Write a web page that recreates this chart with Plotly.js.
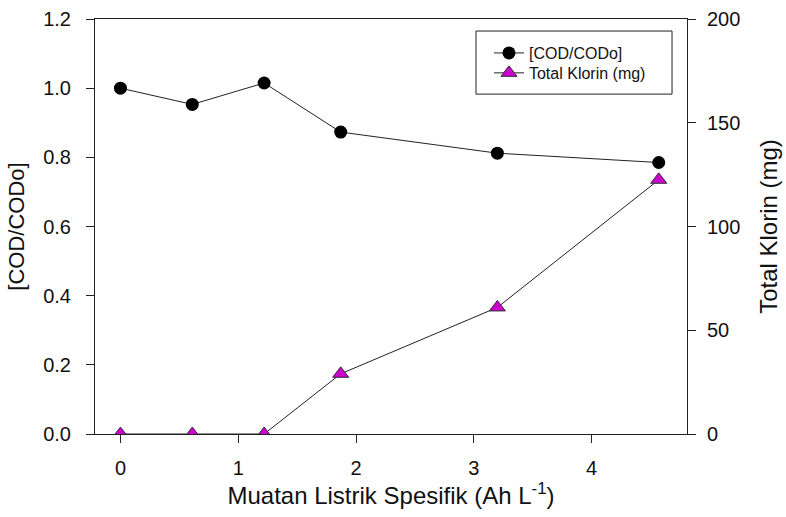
<!DOCTYPE html>
<html><head><meta charset="utf-8">
<script src="https://cdn.plot.ly/plotly-3.0.1.min.js"></script>
<style>body{margin:0;background:#fff}#c{width:786px;height:517px}</style>
</head><body><div id="c"></div>
<script>
const charge = [0, 0.61, 1.22, 1.87, 3.2, 4.57];
const codRatio = [1.0, 0.953, 1.015, 0.873, 0.812, 0.785];
const klorin = [0, 0, 0, 29, 61, 122.5];
const xTicks = [0, 1, 2, 3, 4];
const yTicks = [0, 0.2, 0.4, 0.6, 0.8, 1.0, 1.2];
const y2Ticks = [0, 50, 100, 150, 200];
const fam = '"Liberation Sans", Arial, sans-serif';
const traces = [
  {x: charge, y: codRatio, name: '[COD/CODo]', mode: 'lines+markers', type: 'scatter', legend: 'legend',
   line: {color: '#222', width: 1}, marker: {symbol: 'circle', size: 13, color: '#000'}},
  {x: charge, y: klorin, name: 'Total Klorin (mg)', mode: 'lines+markers', type: 'scatter', yaxis: 'y2', legend: 'legend2',
   line: {color: '#222', width: 1}, marker: {symbol: 'triangle-up', size: 14, color: '#cc00cc', line: {color: '#333', width: 1}}}
];
const axisBase = {ticks: 'outside', ticklen: 8, tickcolor: '#222', showgrid: false, zeroline: false,
  showline: true, linecolor: '#222', linewidth: 1, tickfont: {size: 20, family: fam, color: '#111'}};
const legBase = {xanchor: 'left', yanchor: 'middle', borderwidth: 0, bgcolor: 'rgba(0,0,0,0)',
  font: {size: 16, family: fam, color: '#111'}};
const layout = {
  width: 786, height: 517,
  margin: {l: 95, r: 99, t: 19, b: 83},
  paper_bgcolor: '#fff', plot_bgcolor: '#fff',
  font: {family: fam, color: '#111', size: 16},
  showlegend: true,
  legend: Object.assign({}, legBase, {x: 0.6655, y: 0.918}),
  legend2: Object.assign({}, legBase, {x: 0.6655, y: 0.870}),
  shapes: [{type: 'rect', xref: 'paper', yref: 'paper', x0: 0.6436, x1: 0.9747, y0: 0.819, y1: 0.971,
    line: {color: '#222', width: 1}, fillcolor: 'rgba(0,0,0,0)', layer: 'below'}],
  xaxis: Object.assign({}, axisBase, {range: [-0.216, 4.81], tickvals: xTicks, mirror: true,
    ticklabelstandoff: 8,
    title: {text: 'Muatan Listrik Spesifik (Ah L<sup>-1</sup>)', font: {size: 24, family: fam, color: '#111'}, standoff: 1}}),
  yaxis: Object.assign({}, axisBase, {range: [0, 1.2], tickvals: yTicks, tickformat: '.1f',
    ticklabelstandoff: 11,
    title: {text: '[COD/CODo]', font: {size: 22, family: fam, color: '#111'}, standoff: 12}}),
  yaxis2: Object.assign({}, axisBase, {overlaying: 'y', side: 'right', range: [0, 200], tickvals: y2Ticks,
    ticklabelstandoff: 7,
    title: {text: 'Total Klorin (mg)', font: {size: 24, family: fam, color: '#111'}, standoff: 20}})
};
Plotly.newPlot('c', traces, layout, {displayModeBar: false, staticPlot: true});
</script></body></html>
